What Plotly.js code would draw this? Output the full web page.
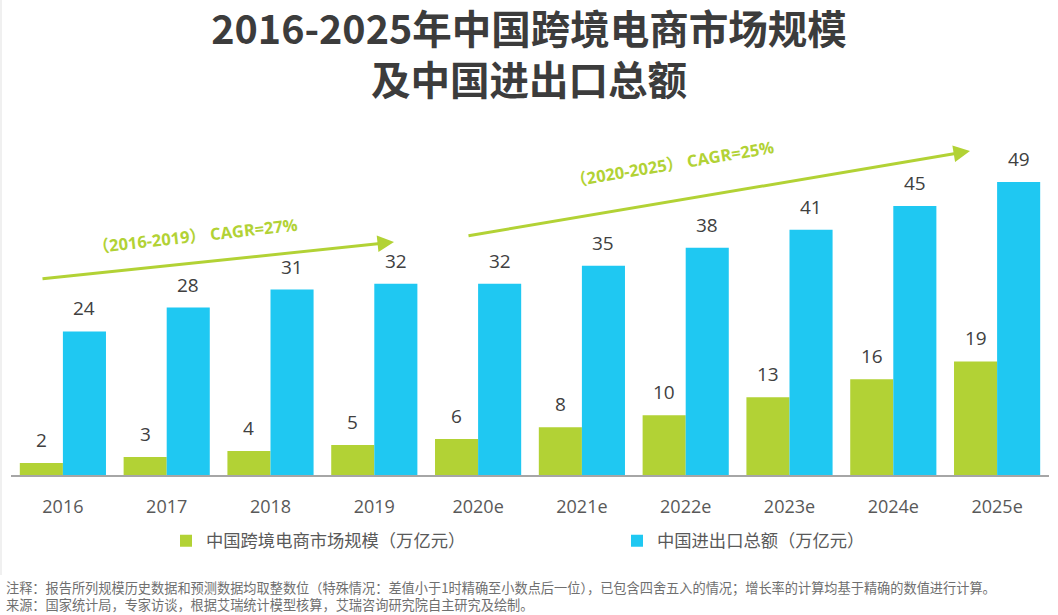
<!DOCTYPE html>
<html>
<head>
<meta charset="utf-8">
<script src="https://cdn.plot.ly/plotly-3.0.1.min.js"></script>
<style>html,body{margin:0;padding:0;background:#fff;}#chart{width:1058px;height:615px;}</style>
</head>
<body>
<div id="chart"></div>
<script>
const categories = ['2016','2017','2018','2019','2020e','2021e','2022e','2023e','2024e','2025e'];
const crossBorder = [2,3,4,5,6,8,10,13,16,19];
const importExport = [24,28,31,32,32,35,38,41,45,49];
const seriesNames = ['中国跨境电商市场规模（万亿元）','中国进出口总额（万亿元）'];
const cagrLabels = ['（2016-2019） CAGR=27%','（2020-2025） CAGR=25%'];
const noteLines = [
  '注释：报告所列规模历史数据和预测数据均取整数位（特殊情况：差值小于1时精确至小数点后一位），已包含四舍五入的情况；增长率的计算均基于精确的数值进行计算。',
  '来源：国家统计局，专家访谈，根据艾瑞统计模型核算，艾瑞咨询研究院自主研究及绘制。'
];

const GREEN = '#b2d235';
const BLUE = '#1fc8f2';
const FONT = 'Open Sans, Noto Sans CJK SC, sans-serif';
const W = 1058, H = 615;
const M = {l: 11, r: 9, t: 150, b: 140};
const PW = W - M.l - M.r, PH = H - M.t - M.b;
const px = x => (x - M.l) / PW;
const py = y => (H - M.b - y) / PH;

const traces = [
  {type: 'bar', name: seriesNames[0], x: categories, y: crossBorder, marker: {color: GREEN}, hoverinfo: 'x+y'},
  {type: 'bar', name: seriesNames[1], x: categories, y: importExport, marker: {color: BLUE}, hoverinfo: 'x+y'}
];

const annotations = [];
const barHalf = PW / categories.length * (1 - 0.17) / 4;
categories.forEach((c, i) => {
  annotations.push({x: i, y: crossBorder[i], xref: 'x', yref: 'y', text: String(crossBorder[i]),
    showarrow: false, xshift: -barHalf, yanchor: 'bottom', yshift: 8,
    font: {family: FONT, size: 19, color: '#404040'}});
  annotations.push({x: i, y: importExport[i], xref: 'x', yref: 'y', text: String(importExport[i]),
    showarrow: false, xshift: barHalf, yanchor: 'bottom', yshift: 8,
    font: {family: FONT, size: 19, color: '#404040'}});
});

// growth arrows
annotations.push({xref: 'paper', yref: 'paper', x: px(394), y: py(242), ax: 41 - 394, ay: 279 - 242,
  text: '', showarrow: true, arrowhead: 2, arrowsize: 1.1, arrowwidth: 3, arrowcolor: GREEN, standoff: 0});
annotations.push({xref: 'paper', yref: 'paper', x: px(970), y: py(151), ax: 467 - 970, ay: 236 - 151,
  text: '', showarrow: true, arrowhead: 2, arrowsize: 1.1, arrowwidth: 3, arrowcolor: GREEN, standoff: 0});
annotations.push({xref: 'paper', yref: 'paper', x: px(195), y: py(235), xanchor: 'center', yanchor: 'middle',
  text: '<b>' + cagrLabels[0] + '</b>',
  showarrow: false, textangle: -6.3, font: {family: FONT, size: 16.5, color: GREEN}});
annotations.push({xref: 'paper', yref: 'paper', x: px(672), y: py(163), xanchor: 'center', yanchor: 'middle',
  text: '<b>' + cagrLabels[1] + '</b>',
  showarrow: false, textangle: -9.5, font: {family: FONT, size: 16.5, color: GREEN}});

// notes
annotations.push({xref: 'paper', yref: 'paper', x: px(4), y: py(596), xanchor: 'left', yanchor: 'middle', align: 'left',
  text: noteLines.join('<br>'), showarrow: false,
  font: {family: 'Noto Sans CJK SC, sans-serif', size: 13.2, color: '#6f6f6f'}});

const layout = {
  width: W, height: H,
  margin: M,
  paper_bgcolor: '#ffffff', plot_bgcolor: '#ffffff',
  font: {family: FONT, color: '#595959'},
  barmode: 'group', bargap: 0.17, bargroupgap: 0,
  title: {
    text: '<b>2016-2025年中国跨境电商市场规模<br>及中国进出口总额</b>',
    x: 0.5, xref: 'container', xanchor: 'center',
    y: 1 - 44 / H, yref: 'container', yanchor: 'top',
    font: {family: 'Noto Sans CJK SC, sans-serif', size: 39.5, color: '#3c3c3c'}
  },
  xaxis: {
    type: 'category', range: [-0.5, categories.length - 0.5], autorange: false,
    showline: true, linecolor: '#a6a6a6', linewidth: 1.5,
    ticks: '', showgrid: false, zeroline: false, ticklabelstandoff: 15,
    tickfont: {family: FONT, size: 18, color: '#595959'}, fixedrange: true
  },
  yaxis: {
    range: [0, PH / 5.98], autorange: false, visible: false, showgrid: false, zeroline: false, fixedrange: true
  },
  showlegend: true,
  legend: {
    orientation: 'h', xref: 'container', yref: 'container',
    x: 166 / W, xanchor: 'left', y: 1 - 523 / H, yanchor: 'top',
    entrywidth: 406, entrywidthmode: 'pixels',
    font: {family: FONT, size: 17.3, color: '#595959'},
    bgcolor: 'rgba(0,0,0,0)'
  },
  annotations: annotations,
  shapes: [
    {type: 'line', xref: 'paper', yref: 'paper', x0: px(1), x1: px(1), y0: py(0), y1: py(575), line: {color: '#f0f0f0', width: 2}}
  ]
};

Plotly.newPlot('chart', traces, layout, {displayModeBar: false, staticPlot: true});
</script>
</body>
</html>
